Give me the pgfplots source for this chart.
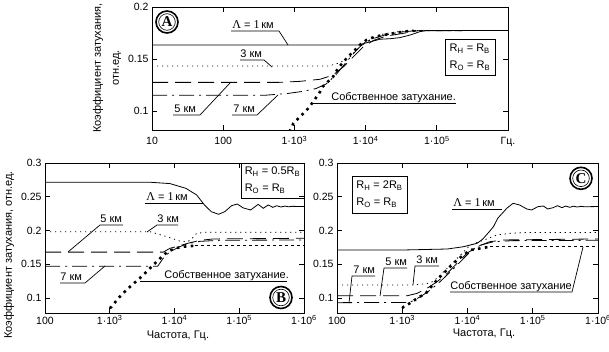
\documentclass[border=0pt]{standalone}
\usepackage{fontspec}
\setmainfont{Liberation Sans}
\newfontfamily\sr{Liberation Serif}
\usepackage{pgfplots}
\pgfplotsset{compat=1.18}
\pgfplotsset{
  mypanel/.style={
    scale only axis, axis line style={line width=0.8pt},
    tick align=inside, major tick length=5pt,
    xminorticks=false, yminorticks=false,
    every tick/.style={black, line width=0.7pt},
    tick label style={font=\fontsize{10.5}{12}\selectfont},
    clip=true,
  },
  s1/.style={black, line width=0.8pt, no marks},
  s3/.style={black, line width=0.8pt, no marks, dash pattern=on 1.2pt off 3.8pt},
  s5/.style={black, line width=0.8pt, no marks, dash pattern=on 16pt off 7pt},
  s7/.style={black, line width=0.8pt, no marks, dash pattern=on 15pt off 5pt on 2pt off 5pt},
  sI/.style={black, line width=2.6pt, no marks, dash pattern=on 2.6pt off 4.4pt},
  sIf/.style={black, line width=0.8pt, no marks, dash pattern=on 3pt off 3pt},
}
\newcommand{\lam}{{\sr\fontsize{12}{12}\selectfont Λ} = {\sr\fontsize{12}{12}\selectfont 1}\,км}
\begin{document}
\begin{tikzpicture}
\useasboundingbox (0,0) rectangle (609pt,-352pt);
% ---------------- Panel A ----------------
\begin{axis}[xmode=log, mypanel, at={(152pt,-130pt)}, anchor=south west, width=356pt, height=123pt,
  xmin=10, xmax=1000000, ymin=0.0817, ymax=0.2,
  xtick={10,100,1000,10000,100000,1000000},
  xticklabels={10,100,1·10\textsuperscript{3},1·10\textsuperscript{4},1·10\textsuperscript{5},Гц.},
  ytick={0.1,0.15,0.2}, yticklabels={0.1,0.15,0.2},
  xticklabel style={anchor=base, yshift=-15pt}]
\addplot[s1] coordinates {(10,0.1635)(8000,0.1635)(11500,0.1665)(16000,0.169)(22000,0.1695)(30000,0.1705)(42000,0.173)(58000,0.1763)(72000,0.1774)(1000000,0.1774)};
\addplot[s3] coordinates {(10,0.1432)(3000,0.1432)(4400,0.1465)(6000,0.152)(7500,0.1587)(9300,0.165)(13000,0.1705)(18000,0.1742)(28000,0.1762)(45000,0.1774)(1000000,0.1774)};
\addplot[s5] coordinates {(10,0.1275)(600,0.1275)(1200,0.1285)(2300,0.1305)(3500,0.1346)(4900,0.1426)(6700,0.152)(9300,0.1618)(13000,0.168)(19500,0.172)(34000,0.1747)(55000,0.1772)(1000000,0.1774)};
\addplot[s7] coordinates {(10,0.1152)(400,0.1152)(800,0.1168)(1300,0.1188)(2000,0.1215)(2800,0.126)(3800,0.1345)(5000,0.1445)(6500,0.154)(8500,0.1625)(12000,0.169)(18000,0.1728)(30000,0.1758)(50000,0.1772)(1000000,0.1774)};
\addplot[sI] coordinates {(850,0.080)(970,0.0882)(1200,0.0945)(1570,0.1026)(1840,0.109)(2300,0.1186)(2500,0.1234)(3500,0.133)(4100,0.141)(4900,0.1474)(6000,0.1538)(7100,0.1587)(8300,0.1635)(10300,0.1683)(13500,0.1714)(17700,0.173)(24500,0.1747)(34000,0.1763)(47000,0.1772)};
\addplot[sIf] coordinates {(47000,0.1776)(1000000,0.1776)};
\end{axis}
% ---------------- Panel B ----------------
\begin{axis}[xmode=log, mypanel, at={(45pt,-313pt)}, anchor=south west, width=259pt, height=150pt,
  xmin=100, xmax=1000000, ymin=0.0778, ymax=0.3,
  xtick={100,1000,10000,100000,1000000},
  xticklabels={100,1·10\textsuperscript{3},1·10\textsuperscript{4},1·10\textsuperscript{5},1·10\textsuperscript{6}},
  ytick={0.1,0.15,0.2,0.25,0.3}, yticklabels={0.1,0.15,0.2,0.25,0.3},
  xticklabel style={anchor=base, yshift=-11pt}]
\addplot[s1] coordinates {(100,0.2715)(4200,0.2715)(8500,0.2695)(15000,0.2625)(22000,0.2526)(29000,0.2378)(37000,0.2279)(48000,0.224)(60000,0.228)(76000,0.2367)(93000,0.2393)(115000,0.2335)(150000,0.2304)(196000,0.2388)(235000,0.2329)(280000,0.2378)(330000,0.2343)(380000,0.2367)(440000,0.2348)(510000,0.2362)(580000,0.2351)(650000,0.2358)(1000000,0.2355)};
\addplot[s3] coordinates {(100,0.1982)(4200,0.1982)(7600,0.1908)(12000,0.1844)(16000,0.1834)(19000,0.189)(22000,0.1958)(31000,0.1975)(1000000,0.1975)};
\addplot[s5] coordinates {(100,0.168)(6700,0.168)(8500,0.1736)(12000,0.1775)(16000,0.181)(25000,0.1855)(40000,0.1875)(1000000,0.1885)};
\addplot[s7] coordinates {(100,0.147)(5500,0.147)(6700,0.159)(8500,0.1686)(12000,0.176)(16000,0.1805)(25000,0.184)(50000,0.1855)(1000000,0.186)};
\addplot[sI] coordinates {(1000,0.085)(1070,0.0871)(1350,0.0996)(1700,0.1093)(2200,0.1193)(2900,0.1292)(3700,0.139)(4700,0.1489)(6000,0.1588)(7600,0.1677)(10200,0.1736)(13700,0.176)(21000,0.1775)};
\addplot[sIf] coordinates {(21000,0.1775)(1000000,0.1775)};
\end{axis}
% ---------------- Panel C ----------------
\begin{axis}[xmode=log, mypanel, at={(337pt,-313pt)}, anchor=south west, width=261pt, height=150pt,
  xmin=100, xmax=1000000, ymin=0.0778, ymax=0.3,
  xtick={100,1000,10000,100000,1000000},
  xticklabels={100,1·10\textsuperscript{3},1·10\textsuperscript{4},1·10\textsuperscript{5},1·10\textsuperscript{6}},
  ytick={0.1,0.15,0.2,0.25,0.3}, yticklabels={0.1,0.15,0.2,0.25,0.3},
  xticklabel style={anchor=base, yshift=-11pt}]
\addplot[s1] coordinates {(100,0.1711)(1000,0.1711)(4900,0.1726)(8700,0.176)(14000,0.181)(17000,0.187)(21000,0.197)(25000,0.2057)(29000,0.218)(40000,0.2329)(50000,0.2403)(63000,0.2378)(81000,0.2319)(96000,0.2304)(120000,0.2353)(145000,0.2363)(170000,0.2319)(205000,0.2338)(240000,0.2368)(280000,0.2338)(320000,0.2363)(370000,0.2343)(420000,0.236)(480000,0.2348)(550000,0.2358)(620000,0.2352)(1000000,0.2355)};
\addplot[s3] coordinates {(100,0.1193)(1500,0.1193)(2700,0.122)(3400,0.1292)(4300,0.139)(6200,0.1538)(7800,0.1637)(11000,0.1785)(18000,0.186)(28000,0.1933)(45000,0.1958)(80000,0.197)(1000000,0.197)};
\addplot[s5] coordinates {(100,0.1034)(1200,0.1034)(1700,0.107)(2400,0.1144)(3400,0.124)(4900,0.1366)(6900,0.1514)(9800,0.1662)(14000,0.176)(22000,0.1834)(36000,0.186)(1000000,0.1875)};
\addplot[s7] coordinates {(100,0.0931)(1300,0.0935)(1900,0.1019)(2700,0.1119)(3800,0.1242)(5500,0.139)(7800,0.1538)(11000,0.1686)(16000,0.1785)(25000,0.1834)(50000,0.185)(1000000,0.1855)};
\addplot[sI] coordinates {(1000,0.085)(1050,0.0871)(1300,0.0921)(1700,0.0996)(2300,0.107)(2700,0.1153)(3400,0.1267)(4300,0.1366)(5400,0.1464)(6900,0.1563)(8700,0.1637)(11000,0.1711)(16000,0.1736)(22000,0.176)};
\addplot[sIf] coordinates {(22000,0.1765)(1000000,0.1765)};
\end{axis}
% ---------------- Annotations ----------------
\begin{scope}[x=1pt, y=-1pt, line width=0.7pt, every node/.style={inner sep=0pt, font=\fontsize{11}{12}\selectfont}]
% axis labels
\node[rotate=90, align=center, font=\fontsize{11}{18}\selectfont] at (107,68) {Коэффициент затухания,\\отн.ед.};
\node[rotate=90] at (9,255) {Коэффициент затухания, отн.ед.};
\node at (178,336) {Частота, Гц.};
\node at (484,334) {Частота, Гц.};
% Panel A labels
\draw (231,31)--(279,31)--(288,45); \node[anchor=base west] at (232,28.5) {\lam};
\draw (240,60)--(264,60)--(272,67); \node[anchor=base west] at (240,57.5) {3 км};
\draw (230,83)--(200,115)--(173,115); \node[anchor=base west] at (174,112.5) {5 км};
\draw (278,95)--(257,115)--(232,115); \node[anchor=base west] at (233,112.5) {7 км};
\draw (313,103)--(456,103); \node[anchor=base west] at (331,100.5) {Собственное затухание.};
% Panel B labels
\draw (145,203)--(203,203); \node[anchor=base west] at (146,200.5) {\lam};
\draw (68,252)--(100,225)--(123,225); \node[anchor=base west] at (100,222.5) {5 км};
\draw (147,232)--(157,225)--(178,225); \node[anchor=base west] at (157,222.5) {3 км};
\draw (105,266)--(85,283)--(60,283); \node[anchor=base west] at (60,280.5) {7 км};
\draw (140,281)--(287,281); \node[anchor=base west] at (164,278.5) {Собственное затухание.};
% Panel C labels
\draw (452,209)--(502,209); \node[anchor=base west] at (453,206.5) {\lam};
\draw (349,303)--(352,276)--(375,276); \node[anchor=base west] at (353,273.5) {7 км};
\draw (380,296)--(384,268)--(407,268); \node[anchor=base west] at (385,265.5) {5 км};
\draw (413,285)--(415,266)--(439,266); \node[anchor=base west] at (416,263.5) {3 км};
\draw (583,247)--(572,292)--(450,292); \node[anchor=base west] at (450,289.5) {Собственное затухание};
% boxes
\node[draw, line width=0.8pt, align=left, inner sep=2pt, minimum width=50pt, minimum height=36pt, font=\fontsize{11}{17}\selectfont] at (470,57) {R\textsubscript{Н} = R\textsubscript{В}\\R\textsubscript{О} = R\textsubscript{В}};
\node[draw, line width=0.8pt, align=left, inner sep=2pt, minimum width=63pt, minimum height=35pt, font=\fontsize{11}{17}\selectfont] at (272.5,180.5) {R\textsubscript{Н} = 0.5R\textsubscript{В}\\R\textsubscript{О} = R\textsubscript{В}};
\node[draw, line width=0.8pt, align=left, inner sep=2pt, minimum width=55pt, minimum height=37pt, font=\fontsize{11}{17}\selectfont] at (379.5,194.5) {R\textsubscript{Н} = 2R\textsubscript{В}\\R\textsubscript{О} = R\textsubscript{В}};
% circled letters
\foreach \cx/\cy/\L in {167/22/A, 281/297.5/B, 581/178.3/C}{
  \draw[line width=1.6pt] (\cx,\cy) circle (11);
  \draw[line width=0.6pt] (\cx,\cy) circle (8.3);
  \node[font=\sr\bfseries\fontsize{15}{15}\selectfont] at (\cx,\cy) {\L};
}
\end{scope}
\end{tikzpicture}
\end{document}
